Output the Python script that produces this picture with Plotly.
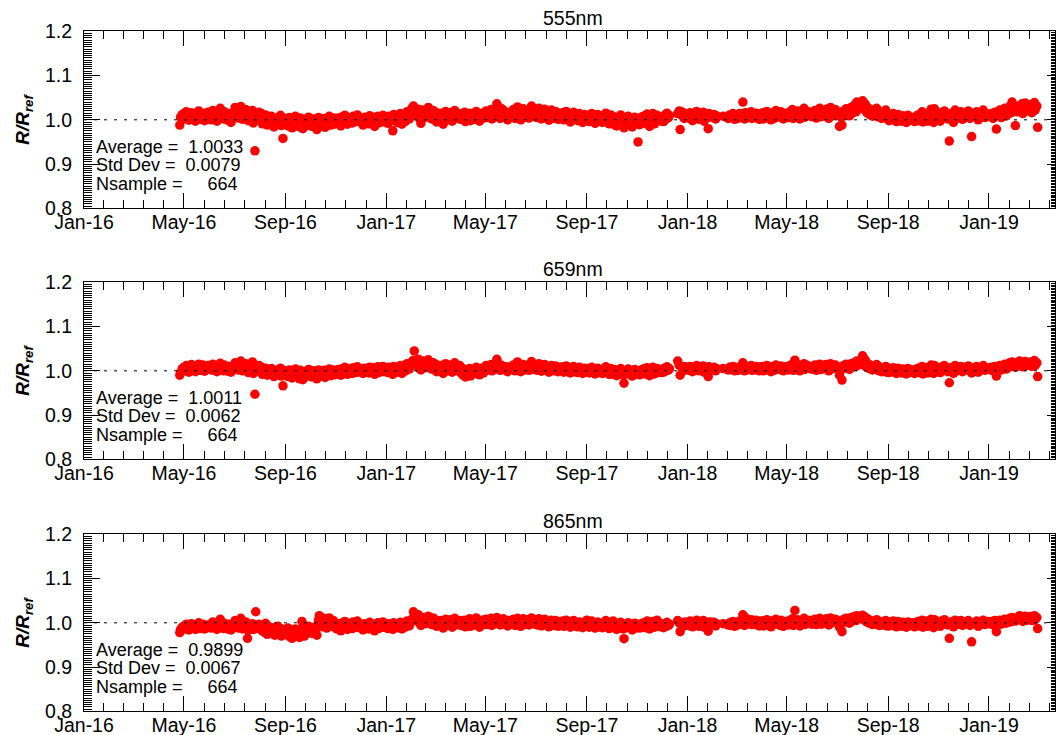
import plotly.graph_objects as go
from datetime import date, datetime, timedelta

# Observation days, counted from 1 Jan 2016 (one row per month)
sample_day = [
    116, 117, 119,
    121, 122, 124, 126, 127, 128, 130, 132, 133, 135, 136, 138, 139, 141, 143, 144, 146, 147, 149, 150, 151,
    153, 154, 156, 157, 158, 160, 161, 163, 165, 166, 168, 169, 170, 172, 174, 175, 177, 178, 180, 181,
    183, 184, 186, 187, 189, 190, 192, 193, 194, 196, 198, 199, 201, 202, 204, 205, 207, 208, 210, 212,
    213, 215, 216, 218, 219, 220, 222, 224, 225, 227, 228, 230, 231, 233, 235, 236, 238, 239, 241, 242, 243,
    244, 245, 247, 249, 250, 252, 253, 254, 256, 258, 259, 261, 262, 264, 265, 267, 268, 270, 272, 273,
    275, 276, 278, 279, 281, 282, 284, 285, 287, 288, 290, 291, 292, 294, 296, 297, 299, 300, 302, 303, 304,
    305, 306, 308, 310, 311, 313, 314, 316, 317, 319, 320, 322, 323, 325, 326, 328, 329, 331, 332, 334,
    335, 337, 338, 340, 342, 343, 345, 346, 348, 349, 351, 352, 354, 356, 357, 359, 360, 362, 363, 364, 365,
    366, 368, 369, 371, 372, 374, 375, 377, 379, 380, 382, 383, 385, 386, 388, 389, 391, 392, 394, 396,
    397, 399, 400, 402, 403, 405, 406, 408, 409, 411, 412, 414, 415, 417, 418, 420, 421, 423, 424,
    425, 426, 427, 429, 430, 432, 433, 435, 436, 438, 440, 441, 443, 444, 446, 447, 449, 450, 452, 453, 455,
    456, 458, 459, 461, 462, 464, 465, 467, 468, 470, 472, 473, 475, 476, 478, 479, 481, 482, 484, 485,
    486, 487, 488, 490, 491, 493, 494, 496, 497, 499, 500, 502, 504, 505, 507, 508, 510, 511, 513, 514, 516,
    517, 519, 520, 522, 523, 525, 526, 528, 529, 531, 532, 534, 536, 537, 539, 540, 542, 543, 545, 546,
    547, 548, 549, 551, 552, 554, 555, 557, 558, 560, 561, 563, 564, 566, 568, 569, 571, 572, 574, 575, 577,
    578, 580, 581, 583, 584, 586, 587, 589, 590, 592, 593, 595, 596, 598, 600, 601, 603, 604, 606, 607, 608,
    609, 610, 612, 613, 615, 616, 618, 619, 621, 622, 624, 625, 627, 628, 630, 632, 633, 635, 636, 638,
    639, 641, 642, 644, 645, 647, 648, 650, 651, 653, 654, 656, 657, 659, 660, 662, 664, 665, 667, 668, 669,
    670, 671, 673, 674, 676, 677, 679, 680, 682, 683, 685, 686, 688, 689, 691, 692, 694, 696, 697, 699,
    700, 702, 703, 705, 706, 708, 709, 719, 721, 722, 724, 725, 727, 728, 730,
    731, 733, 734, 736, 737, 739, 740, 742, 743, 745, 746, 748, 750, 751, 753, 754, 756, 757, 759, 760,
    762, 763, 765, 766, 774, 780, 782, 783, 785, 786, 788, 789,
    791, 792, 794, 795, 797, 798, 800, 801, 803, 804, 806, 808, 809, 811, 812, 814, 815, 817, 818, 820,
    821, 822, 823, 824, 826, 827, 829, 830, 832, 833, 835, 836, 838, 840, 841, 843, 844, 846, 847, 849, 850,
    852, 853, 855, 856, 858, 859, 861, 862, 864, 865, 867, 868, 870, 872, 873, 875, 876, 878, 879, 881,
    882, 884, 885, 887, 888, 890, 891, 893, 894, 896, 897, 899, 900, 902, 903, 904, 905, 907, 908, 910, 911,
    912, 914, 915, 917, 918, 920, 921, 923, 924, 926, 927, 929, 930, 932, 933, 935, 936, 938, 940, 941,
    943, 945, 946, 948, 949, 951, 952, 954, 955, 957, 958, 960, 961, 963, 964, 966, 968, 969, 971, 972, 973,
    974, 975, 977, 978, 980, 981, 983, 984, 986, 987, 989, 990, 992, 993, 995, 996, 998, 1000, 1001, 1003,
    1004, 1006, 1007, 1009, 1010, 1012, 1013, 1015, 1016, 1018, 1019, 1021, 1022, 1024, 1026, 1027, 1029, 1030, 1032, 1033,
    1035, 1037, 1039, 1040, 1042, 1044, 1046, 1048, 1050, 1053, 1055, 1057, 1060, 1062, 1064,
    1066, 1068, 1071, 1073, 1075, 1078, 1081, 1083, 1086, 1089, 1091, 1094,
    1097, 1099, 1101, 1103, 1105, 1107, 1109, 1111, 1113, 1115, 1117, 1119, 1121, 1122, 1124, 1126,
    1127, 1128, 1130, 1131, 1133, 1134, 1136, 1137, 1139, 1140, 1142, 1143, 1145, 1146, 1148, 1149, 1151, 1152, 1154,
    1155,
]

# (R/Rref - 1) x 1000 for each band, same sample order as sample_day
r555_milli = [
    -12, 6, 12,
    14, 2, 18, 6, -1, 11, 16, 4, 9, -3, 13, 5, 20, 1, 8, 15, -2, 10, 3, 17, 7,
    12, 0, 21, 8, 4, 15, -3, 9, 26, 5, 11, 2, 18, 7, -1, 14, 10, -6, 6, 16,
    28, 8, 20, 4, 13, 30, 1, 16, 10, 23, 5, -2, 14, 7, 21, -7, -70, 11, 2, 17,
    0, 14, -9, 6, -3, 11, -12, 3, -6, 8, -1, -16, 2, -10, 5, -7, 10, -13, -42, -2, -8,
    -10, 3, -14, 5, -7, -18, 0, -4, 8, -12, -2, -16, 4, -9, -20, 1, -6, -13, 6, -3,
    -8, -15, 2, -11, -4, -22, 5, -6, -13, 0, -9, 3, -17, -2, -7, 8, -12, -1, 4, -10, -5,
    0, -8, 4, -3, -14, 7, -5, 10, -1, -10, 5, -2, 3, -7, 8, 1, -4, 11, -1, 4,
    -6, 2, -12, 6, -3, 4, -9, 9, 0, -4, 6, -15, 2, 8, -7, 3, -2, 10, -5, 5, 1,
    2, -8, 8, -3, 5, -25, 12, 1, -6, 8, -2, 14, -10, 4, 10, -4, 18, 7, 2, 13,
    26, 31, 20, 12, 16, 24, 4, -8, 10, 22, 14, 6, 19, 28, 9, 15, 2, 21, 11,
    7, 17, -5, 12, 2, 15, 6, -10, 10, 19, 0, 14, 4, 16, -3, 8, 21, 3, 11, 5, 13,
    1, 14, 6, 17, -4, 9, 3, 15, -2, 7, 12, 1, 19, 5, 10, -3, 14, 8, 4, 16,
    12, 20, 5, 16, 9, 23, 2, 13, 7, 19, 36, 15, 3, 26, 11, 22, 6, 17, 0, 14, 9,
    17, 8, 23, 3, 13, 29, 10, 19, 0, 15, 25, 6, 12, 21, 4, 16, 31, 9, 22, 7,
    11, 21, 5, 26, 14, 2, 18, 9, 24, 6, 16, -1, 12, 22, 8, 3, 19, 13, 1, 15, 7,
    5, 16, 0, 11, 19, 3, 8, -5, 13, 6, 17, 1, 10, -2, 14, 4, 9, -6, 12, 7, 2,
    3, 10, -4, 6, 14, 0, 8, -8, 5, 12, -3, 9, 1, -6, 7, 15, -1, 4, -9, 11,
    0, -10, 7, -2, -14, 3, -6, 11, -3, -12, -18, -1, -8, 8, -5, 2, -16, -3, 6, -9, 1,
    -5, -50, -11, 2, 7, -2, 9, -8, 13, 0, -15, 5, -4, 14, -9, 3, 10, -1, 6, -3,
    6, -4, 10, 2, 15, 5, 9, 14, 20, -22, 10, 17, 3, 13, 8,
    10, 3, 16, 8, -2, 13, 5, 19, 9, 1, 12, 6, 17, -3, 10, 4, -20, 14, 7, 11,
    5, 12, 2, 9, 8, 3, 11, 5, 8, 14, 1, 6,
    8, 3, 14, 7, 10, 40, 2, 16, 5, 12, 8, 18, 3, 10, 6, 15, 4, 11, 1, 13,
    6, 16, 2, 12, 8, 19, 5, 14, 0, 10, 16, 3, 21, 8, 13, 6, 18, 10, 2, 15, 11,
    12, 5, 18, 9, 23, 3, 14, 8, 20, 11, 2, 16, 9, 26, 6, 13, 19, 10, 17, 7,
    15, 8, 21, 4, 17, 11, 26, 7, 14, 20, 10, 24, 12, 3, 18, 28, 8, 16, 11, 23, 13,
    18, 10, -15, 6, -12, 20, 12, 25, 16, 23, 9, 28, 14, 22, 33, 18, 40, 26, 38, 31,
    43, 23, 36, 16, 28, 12, 24, 20, 8, 18, 13, 26, 10, 6, 17, 3, 14, 9, 22, 4, 11,
    6, -2, 10, 3, 14, 0, 8, -4, 12, 2, 6, -3, 9, 1, 4, -6, 10, 2, -1, 5,
    2, -4, 7, 0, 11, -2, 4, 18, -5, 8, 1, 13, -3, 5, 24, 2, -6, 25, 18, 9,
    10, -3, 16, 5, 20, 8, 2, -48, 14, -6, 22, 4, 12, 18, 1,
    6, 15, 20, 3, -38, 11, 18, 0, 9, 22, 5, 13,
    8, 14, 3, 17, -21, 10, 22, 5, 12, 26, 9, 18, 30, 15, 40, 20,
    28, -13, 18, 25, 32, 22, 36, 14, 26, 38, 20, 30, 24, 34, 16, 28, 39, 22, 31,
    -17,
]

r659_milli = [
    -10, -4, 5,
    8, 0, 12, 4, -3, 9, 14, 2, 6, -2, 11, 5, 15, 1, 7, 13, -1, 8, 3, 12, 6,
    10, 2, 15, 6, 1, 12, -2, 7, 17, 4, 9, 0, 13, 5, -1, 10, 8, -3, 4, 11,
    18, 5, 13, 2, 9, 22, 0, 11, 6, 16, 3, -4, 10, 4, 20, -6, -53, 7, 1, 12,
    -2, 8, -8, 3, -5, 6, -10, 1, -6, 5, -3, -13, 0, -9, 2, -7, 6, -12, -34, -4, -8,
    -9, 0, -13, 2, -7, -16, -3, -5, 4, -11, -4, -18, 1, -8, -20, -2, -6, -12, 3, -4,
    -7, -14, 0, -10, -4, -18, 2, -6, -12, -2, -8, 1, -15, -3, -6, 4, -11, -2, 2, -9, -5,
    -2, -7, 3, -4, -10, 5, -5, 8, -1, -8, 4, -3, 2, -6, 7, 0, -4, 9, -2, 3,
    -3, 4, -6, 6, 0, 5, -5, 8, 2, -2, 7, -8, 3, 9, -4, 5, 0, 10, -2, 6, 2,
    4, -4, 8, 0, 6, -8, 10, 2, -3, 8, 1, 12, -6, 5, 11, -1, 16, 8, 4, 14,
    20, 24, 45, 14, 17, 26, 6, 2, 12, 22, 16, 7, 19, 25, 10, 15, 4, 18, 11,
    8, 15, -2, 10, 3, 12, 5, -6, 9, 16, 0, 11, 4, 13, -3, 7, 18, 2, 10, 5, 12,
    -4, 6, -10, 2, -14, 0, -8, 5, -12, -2, 4, -6, 8, -3, 3, -9, 6, 1, -5, 7,
    6, 12, 2, 9, 5, 14, 0, 8, 3, 11, 26, 7, 1, 13, 6, 10, 2, 9, -2, 8, 5,
    9, 3, 13, 0, 7, 20, 4, 10, -2, 8, 14, 2, 6, 12, 1, 9, 21, 4, 11, 3,
    6, 13, 1, 16, 8, -1, 10, 4, 14, 2, 9, -3, 7, 12, 3, 0, 11, 6, -2, 8, 4,
    2, 9, -3, 5, 11, 0, 4, -5, 7, 1, 10, -2, 5, -4, 8, 0, 3, -6, 6, 2, -1,
    0, 5, -5, 2, 8, -3, 4, -7, 1, 6, -4, 3, -1, -6, 2, 9, -3, 0, -8, 5,
    -2, -8, 3, -4, -11, 0, -6, 5, -3, -9, -28, -2, -7, 4, -5, 0, -12, -3, 3, -7, -1,
    -4, -6, -9, 0, 3, -3, 5, -7, 7, -2, -11, 2, -5, 8, -7, 1, 5, -3, 3, -4,
    3, -3, 6, 0, 9, 2, 5, 22, 12, -10, 8, 10, 1, 9, 4,
    6, 1, 10, 4, -2, 8, 2, 12, 5, 0, 9, 3, 11, -3, 6, 2, -13, 9, 4, 7,
    3, 8, 0, 5, 5, 2, 8, 3, 6, 10, 0, 4,
    5, 1, 9, 4, 7, 18, 0, 10, 3, 8, 5, 12, 1, 6, 3, 10, 2, 7, 0, 9,
    4, 10, 0, 8, 5, 12, 2, 9, -2, 6, 10, 1, 13, 4, 8, 3, 11, 6, 0, 9, 7,
    8, 2, 12, 5, 15, 1, 24, 4, 13, 7, 0, 10, 5, 16, 3, 8, 12, 6, 10, 4,
    9, 4, 13, 1, 10, 6, 15, 3, 8, 12, 5, 14, 7, 0, 11, 16, 4, 9, 6, 13, 7,
    10, 4, -10, 2, -21, 12, 6, 15, 9, 13, 3, 16, 8, 12, 19, 10, 22, 14, 20, 17,
    34, 12, 25, 8, 17, 5, 13, 10, 2, 9, 6, 14, 3, 0, 8, -2, 5, 1, 10, -3, 3,
    2, -4, 5, 0, 7, -3, 3, -6, 6, -1, 2, -5, 4, -2, 1, -7, 5, -1, -3, 2,
    -1, -6, 3, -3, 6, -4, 1, 10, -7, 4, -2, 7, -5, 2, 13, 0, -6, 12, 8, 3,
    5, -4, 9, 1, 12, 4, -2, -27, 7, -6, 12, 0, 6, 10, -2,
    2, 8, 11, 0, -5, 5, 10, -3, 4, 12, 1, 7,
    3, 8, 0, 10, -12, 5, 12, 2, 7, 15, 4, 11, 18, 9, 20, 13,
    16, 8, 11, 18, 22, 13, 19, 9, 15, 21, 12, 17, 14, 20, 10, 16, 23, 12, 18,
    -13,
]

r865_milli = [
    -22, -15, -10,
    -8, -14, -3, -11, -16, -6, -2, -12, -9, -15, -4, -10, 0, -13, -7, -3, -14, -8, -11, -5, -9,
    -6, -12, 2, -8, -11, -4, -15, -7, 8, -10, -5, -13, -1, -9, -14, -3, -7, -16, -10, -2,
    5, -8, -1, -12, -6, 10, -14, -4, -9, 2, -35, -17, -5, -10, -2, -15, -12, 25, -13, -3,
    -8, -10, -18, -6, -22, -1, -26, -9, -20, -14, -24, -11, -28, -16, -8, -21, -13, -30, -19, -25, -15,
    -18, -27, -12, -31, -20, -35, -16, -24, -14, -29, -22, -33, -19, 3, -11, -30, -17, -23, -8, -21,
    -15, -24, -10, -20, -13, -28, 6, 16, 3, -9, 10, -3, 8, -12, 2, 11, -7, -1, 5, -10, -5,
    -6, -14, -2, -10, -18, 0, -11, 3, -8, -15, -1, -9, -4, -13, 2, -7, -10, 4, -6, -3,
    -12, -5, -16, -2, -9, -4, -14, 1, -7, -11, -3, -18, -6, 0, -13, -4, -8, 2, -10, -5, -7,
    -6, -13, -2, -9, -4, -15, 0, -7, -11, -3, -8, 1, -14, -5, -1, -10, 4, -3, -7, 2,
    8, 25, 14, 6, 10, 18, 0, -6, 4, 12, 7, -2, 9, 15, 3, 8, -4, 11, 5,
    0, 6, -8, 3, -4, 5, -2, -12, 1, 8, -6, 4, -3, 7, -10, 0, 10, -5, 2, -2, 5,
    -6, 3, -2, 6, -9, 0, -4, 9, -8, -1, 4, -5, 11, -3, 2, -10, 5, 1, -4, 7,
    2, 8, -4, 5, -1, 10, -6, 3, -2, 7, 12, 0, -5, 6, 1, 9, -3, 4, -7, 5, 0,
    4, -3, 8, -6, 1, 10, -2, 5, -8, 3, 9, -4, 0, 7, -5, 2, 11, -1, 6, -3,
    1, 7, -5, 9, 2, -7, 4, -2, 8, -4, 3, -9, 0, 6, -3, -6, 5, 1, -8, 3, -2,
    -3, 4, -8, 0, 6, -5, -1, -10, 3, -4, 5, -7, 0, -9, 2, -6, -1, -11, 1, -3, -7,
    6, 0, -10, -3, 4, -8, -1, -12, -4, 2, -9, -2, -6, -11, -3, 5, -7, -4, -13, 0,
    -7, 4, -2, -9, -15, -4, -10, 1, -8, -14, -36, -6, -11, 0, -9, -3, -16, -7, -1, -12, -5,
    -8, -3, -12, -5, -1, -9, 0, -11, 4, -6, -14, -2, -8, 3, -10, -4, 6, -7, -1, -9,
    -5, -11, -2, -8, 1, -6, -3, 5, -1, -20, -4, 0, -7, 2, -3,
    0, -6, 4, -3, -9, 2, -5, 6, -2, -8, 3, -4, 5, -10, 0, -6, -19, 2, -3, 1,
    -4, 1, -7, -2, -2, -5, 0, -6, -3, 3, -8, -1,
    0, -5, 4, -2, 3, 18, -6, 12, -3, 2, -1, 7, -4, 1, -2, 6, -5, 3, -7, 4,
    -3, 4, -7, 2, -1, 7, -5, 3, -9, 0, 5, -4, 8, -2, 2, -6, 6, 0, -8, 3, 1,
    2, -5, 6, -1, 9, -6, 28, -3, 7, 1, -7, 4, -2, 10, -4, 3, 6, -1, 5, -3,
    5, -2, 8, -4, 6, 1, 10, -3, 4, 7, 0, 9, 2, -5, 6, 11, -1, 5, 2, 8, 3,
    6, 0, -10, -3, -20, 8, 2, 10, 4, 9, -1, 12, 3, 7, 14, 5, 16, 9, 15, 11,
    17, 6, 13, 2, 9, -1, 6, 3, -4, 2, -2, 7, -3, -6, 1, -5, 3, -2, 5, -7, -1,
    -2, -7, 2, -4, 4, -6, 0, -9, 3, -3, -1, -8, 1, -5, -2, -10, 2, -4, -6, 0,
    -4, -9, 0, -6, 3, -7, -2, 6, -10, 1, -5, 4, -8, -1, 8, -3, -11, 7, 3, -2,
    0, -8, 4, -3, 7, -1, -5, -35, 2, -9, 6, -4, 1, 5, -6,
    -3, 2, 5, -6, -43, -1, 4, -8, 0, 6, -4, 3,
    -2, 3, -5, 5, -20, 0, 6, -3, 2, 8, -1, 4, 10, 2, 12, 6,
    10, 4, 7, 12, 16, 9, 13, 3, 11, 15, 6, 12, 8, 14, 5, 10, 16, 7, 12,
    -13,
]

band_titles = ["555nm", "659nm", "865nm"]
avg_text = ["1.0033", "1.0011", "0.9899"]
std_text = ["0.0079", "0.0062", "0.0067"]
nsample_text = ["664", "664", "664"]

major_dates = ["2016-01-01", "2016-05-01", "2016-09-01", "2017-01-01", "2017-05-01",
               "2017-09-01", "2018-01-01", "2018-05-01", "2018-09-01", "2019-01-01"]
major_labels = ["Jan-16", "May-16", "Sep-16", "Jan-17", "May-17",
                "Sep-17", "Jan-18", "May-18", "Sep-18", "Jan-19"]
y_ticks = [0.8, 0.9, 1.0, 1.1, 1.2]
y_tick_labels = ["0.8", "0.9", "1.0", "1.1", "1.2"]

X_START, X_END = "2016-01-01", "2019-03-22"

# ---------------------------------------------------------------- layout math
W, H = 1057, 735
FONT = "Liberation Sans, Arial, Helvetica, sans-serif"
PLOT_L, PLOT_R = 84.0, 1055.0
PANEL_TOPS = [31.3, 282.3, 534.3]
PANEL_H = 177.0

origin = date(2016, 1, 1)
dates = [(origin + timedelta(days=d)).isoformat() for d in sample_day]
series = [[1 + v / 1000.0 for v in s] for s in (r555_milli, r659_milli, r865_milli)]

# minor ticks: five intervals between majors, continued past the last one
majors_dt = [datetime.fromisoformat(d) for d in major_dates]
minor_vals = []
for a, b in zip(majors_dt[:-1], majors_dt[1:]):
    step = (b - a) / 5
    minor_vals += [(a + k * step).strftime("%Y-%m-%d %H:%M:%S") for k in range(1, 5)]
step = (majors_dt[-1] - majors_dt[-2]) / 5
t = majors_dt[-1] + step
end_dt = datetime.fromisoformat(X_END)
while t < end_dt:
    minor_vals.append(t.strftime("%Y-%m-%d %H:%M:%S"))
    t += step

fig = go.Figure()
annotations = []
shapes = []
layout_axes = {}

for i in range(3):
    n = "" if i == 0 else str(i + 1)
    xa, ya, yr = f"x{n}", f"y{n}", f"y{i + 4}"
    top = PANEL_TOPS[i]
    bottom = top + PANEL_H
    dom_y = [1 - bottom / H, 1 - top / H]

    fig.add_trace(go.Scatter(
        x=dates, y=series[i], xaxis=xa, yaxis=ya, mode="markers",
        marker=dict(color="#ff0000", size=9.5, line=dict(width=0)),
        showlegend=False, hoverinfo="skip"))
    # empty trace so the right-hand tick axis is drawn
    fig.add_trace(go.Scatter(x=[], y=[], xaxis=xa, yaxis=yr, showlegend=False,
                             hoverinfo="skip"))

    layout_axes[f"xaxis{n}"] = dict(
        domain=[PLOT_L / W, PLOT_R / W], anchor=ya, type="date",
        range=[X_START, X_END], tickmode="array", tickvals=major_dates,
        ticktext=major_labels, ticks="inside", ticklen=15, tickwidth=1,
        tickcolor="black", showline=True, linecolor="black", linewidth=1,
        mirror="ticks", showgrid=False, zeroline=False, ticklabelstandoff=-4,
        tickfont=dict(family=FONT, size=19.5, color="black"),
        minor=dict(ticks="inside", tickmode="array", tickvals=minor_vals,
                   ticklen=8, tickwidth=1, tickcolor="black", showgrid=False))
    layout_axes[f"yaxis{n}"] = dict(
        domain=dom_y, anchor=xa, range=[0.8, 1.2], tickmode="array",
        tickvals=y_ticks, ticktext=y_tick_labels, ticks="inside", ticklen=16,
        tickwidth=1, tickcolor="black", showline=True, linecolor="black",
        linewidth=1, mirror=True, showgrid=False, zeroline=False,
        ticklabelstandoff=7, tickfont=dict(family=FONT, size=19.5, color="black"),
        minor=dict(ticks="inside", tick0=0.8, dtick=0.005, ticklen=8,
                   tickwidth=1, tickcolor="black", showgrid=False))
    layout_axes[f"yaxis{i + 4}"] = dict(
        overlaying=ya, anchor=xa, side="right", range=[0.8, 1.2],
        tickmode="array", tickvals=[0.9, 1.0, 1.1], ticks="inside", ticklen=8,
        tickwidth=1, tickcolor="black", showticklabels=False, showline=False,
        showgrid=False, zeroline=False,
        minor=dict(ticks="inside", tick0=0.8, dtick=0.1 / 30, ticklen=4,
                   tickwidth=1, tickcolor="black", showgrid=False))

    # dotted reference line at R/Rref = 1
    shapes.append(dict(type="line", xref=f"{xa} domain", x0=0, x1=1, yref=ya,
                       y0=1.0, y1=1.0, layer="above",
                       line=dict(color="black", width=1, dash="3px,7px")))

    # panel title
    annotations.append(dict(text=band_titles[i], xref="paper", yref="paper",
                            x=573 / W, y=1 - (top - 13) / H, xanchor="center",
                            yanchor="middle", showarrow=False,
                            font=dict(family=FONT, size=19.5, color="black")))
    # y-axis title
    annotations.append(dict(text="<b><i>R/R<sub>ref</sub></i></b>", xref="paper",
                            yref=ya, x=24 / W, y=1.0, xanchor="center",
                            yanchor="middle", textangle=-90, showarrow=False,
                            font=dict(family=FONT, size=19, color="black")))
    # statistics block
    nb = "\u00a0"
    stat_lines = [f"Average ={nb * 2}{avg_text[i]}",
                  f"Std Dev ={nb * 2}{std_text[i]}",
                  f"Nsample ={nb * 5}{nsample_text[i]}"]
    for k, line in enumerate(stat_lines):
        annotations.append(dict(text=line, xref="paper", yref="paper",
                                x=94 / W, y=1 - (top + 115.8 + 18.3 * k) / H,
                                xanchor="left", yanchor="middle", showarrow=False,
                                font=dict(family=FONT, size=18, color="black")))

fig.update_layout(
    template="none", width=W, height=H,
    margin=dict(l=0, r=0, t=0, b=0, autoexpand=False),
    paper_bgcolor="white", plot_bgcolor="white",
    showlegend=False, annotations=annotations, shapes=shapes, **layout_axes)

fig.write_html("out.html")
